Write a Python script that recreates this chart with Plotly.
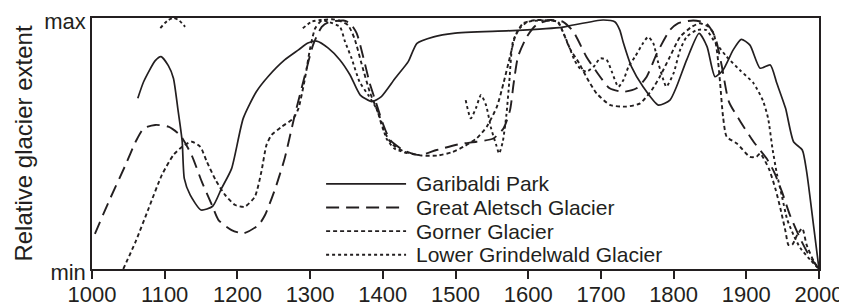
import plotly.graph_objects as go

# ---------------- data ----------------
garibaldi_years = [1063,1071,1087,1095,1105,1112,1118,1124,1127,1135,1150,1166,1178,1192,1208,
                   1226,1242,1265,1284,1297,1309,1325,1341,1355,1369,1385,1398,1417,1435,1447,
                   1470,1497,1579,1646,1662,1703,1719,1726,1731,1742,1758,1779,1795,1804,1818,
                   1835,1846,1857,1868,1882,1893,1905,1919,1933,1942,1954,1965,1977,1983,1993,2000]
garibaldi_vals = [0.68,0.746,0.83,0.846,0.81,0.76,0.64,0.51,0.36,0.295,0.235,0.25,0.32,0.40,0.60,
                  0.706,0.766,0.833,0.873,0.90,0.908,0.88,0.833,0.773,0.693,0.667,0.687,0.76,0.826,0.899,
                  0.925,0.939,0.95,0.963,0.972,0.992,0.985,0.952,0.90,0.806,0.726,0.653,0.673,0.726,0.833,
                  0.939,0.886,0.766,0.793,0.873,0.915,0.892,0.80,0.813,0.74,0.64,0.507,0.474,0.388,0.162,0.0]

aletsch_years = [1004,1023,1046,1060,1071,1087,1105,1121,1137,1151,1165,1174,1192,1208,1229,
                 1238,1252,1265,1279,1293,1304,1316,1325,1346,1355,1364,1373,1382,1391,1400,
                 1410,1428,1451,1474,1506,1529,1552,1566,1575,1580,1586,1598,1611,1630,1648,
                 1662,1680,1694,1712,1731,1749,1763,1777,1795,1806,1827,1845,1857,1866,1876,
                 1892,1910,1928,1938,1949,1960,1974,1986,2000]
aletsch_vals = [0.14,0.268,0.414,0.507,0.56,0.574,0.567,0.534,0.454,0.348,0.255,0.195,0.155,0.142,0.175,
                0.215,0.32,0.44,0.614,0.773,0.892,0.965,0.983,0.99,0.979,0.94,0.846,0.74,0.66,0.58,
                0.514,0.474,0.454,0.474,0.498,0.507,0.52,0.56,0.633,0.74,0.846,0.925,0.972,0.992,0.985,
                0.946,0.846,0.786,0.72,0.706,0.72,0.766,0.859,0.952,0.979,0.99,0.979,0.925,0.813,0.667,
                0.587,0.507,0.44,0.388,0.308,0.215,0.122,0.056,0.0]

gorner_years = [1043,1060,1078,1096,1112,1124,1137,1149,1158,1170,1183,1197,1210,1224,1233,
                1240,1247,1261,1277,1284,1293,1300,1307,1316,1330,1340,1352,1361,1370,1382,
                1393,1400,1412,1430,1453,1475,1495,1511,1529,1543,1557,1566,1575,1582,1593,
                1611,1630,1641,1647,1657,1670,1681,1694,1713,1735,1754,1770,1781,1795,1809,
                1825,1836,1848,1855,1860,1864,1868,1873,1887,1905,1914,1919,1931,1940,1947,
                1954,1958,1963,1970,1977,1983,1993,2000]
gorner_vals = [0.0,0.109,0.242,0.374,0.454,0.487,0.507,0.487,0.427,0.355,0.295,0.255,0.248,0.288,0.388,
               0.494,0.534,0.567,0.60,0.64,0.76,0.879,0.959,0.99,0.995,0.99,0.972,0.919,0.826,0.706,
               0.627,0.56,0.50,0.467,0.452,0.452,0.465,0.487,0.52,0.567,0.647,0.74,0.846,0.925,0.979,
               0.992,0.99,0.985,0.95,0.88,0.82,0.76,0.70,0.653,0.647,0.66,0.713,0.766,0.846,0.925,
               0.965,0.979,0.965,0.94,0.86,0.74,0.607,0.527,0.50,0.447,0.447,0.46,0.40,0.32,0.24,
               0.149,0.096,0.096,0.135,0.162,0.096,0.03,0.0]

grindelwald_years = [1094,1104,1112,1120,1128, None,
                     1290,1302,1316,1325,1341,1348,1357,1368,1380,1391,1398,1405,1416,1435, None,
                     1514,1521,1528,1535,1542,1549,1556,1560,1565,1570,1574,1579,1588,1600,1620,
                     1640,1650,1658,1664,1671,1680,1690,1699,1708,1715,1724,1731,1738,1747,1758,
                     1765,1772,1779,1786,1790,1800,1809,1818,1832,1845,1855,1873,1891,1910,1923,
                     1930,1936,1942,1949,1956,1965,1974,1988,2000]
grindelwald_vals = [0.96,0.99,1.0,0.99,0.965, None,
                    0.959,0.985,0.992,0.985,0.965,0.906,0.84,0.746,0.693,0.64,0.587,0.52,0.48,0.46, None,
                    0.673,0.60,0.64,0.693,0.653,0.56,0.494,0.46,0.507,0.614,0.746,0.906,0.959,0.985,0.99,
                    0.985,0.93,0.873,0.83,0.80,0.786,0.806,0.839,0.833,0.786,0.726,0.753,0.806,0.846,0.90,
                    0.925,0.90,0.82,0.753,0.726,0.78,0.873,0.925,0.952,0.952,0.912,0.846,0.793,0.74,0.67,
                    0.60,0.48,0.38,0.29,0.20,0.135,0.085,0.036,0.0]

series_names = ["Garibaldi Park", "Great Aletsch Glacier", "Gorner Glacier", "Lower Grindelwald Glacier"]
x_tick_vals = list(range(1000, 2001, 100))
y_tick_text = ["min", "max"]

# ---------------- styling ----------------
INK = "#231f20"
FONT = "Liberation Sans, Arial, Helvetica, sans-serif"
dashes = ["solid", "13px,7px", "4px,3px", "3px,3px"]
widths = [1.7, 1.9, 1.9, 1.9]

series = [(garibaldi_years, garibaldi_vals), (aletsch_years, aletsch_vals),
          (gorner_years, gorner_vals), (grindelwald_years, grindelwald_vals)]

fig = go.Figure()
for (xs, ys), name, d, w in zip(series, series_names, dashes, widths):
    fig.add_trace(go.Scatter(x=xs, y=ys, mode="lines", name=name, showlegend=False,
                             connectgaps=False,
                             line=dict(color=INK, width=w, dash=d, shape="spline", smoothing=0.6)))

# legend drawn in the plot area (matching the compact original key)
leg_x0, leg_x1, leg_tx = 0.322, 0.432, 0.444
leg_rows = [0.339, 0.245, 0.151, 0.057]
for name, d, w, yy in zip(series_names, dashes, widths, leg_rows):
    fig.add_shape(type="line", xref="paper", yref="paper", x0=leg_x0, x1=leg_x1, y0=yy, y1=yy,
                  line=dict(color=INK, width=w, dash=d))
    fig.add_annotation(xref="paper", yref="paper", x=leg_tx, y=yy, text=name, showarrow=False,
                       xanchor="left", yanchor="middle", borderpad=0,
                       font=dict(family=FONT, size=21, color=INK))

# the page has an 8px body margin, so the figure is sized to the visible window
fig.update_layout(
    width=839, height=300,
    margin=dict(l=84, r=28, t=10, b=39, autoexpand=False),
    paper_bgcolor="white", plot_bgcolor="white",
    font=dict(family=FONT, size=22, color=INK),
    showlegend=False,
)
fig.update_xaxes(range=[1000, 2000], tickvals=x_tick_vals, ticks="outside", ticklen=8, tickwidth=1.5,
                 tickcolor=INK, showline=True, linecolor=INK, linewidth=1.5, mirror=True,
                 showgrid=False, zeroline=False, tickfont=dict(size=22), automargin=False,
                 ticklabelstandoff=-3, ticklabeloverflow="allow")
fig.update_yaxes(range=[0, 1], tickvals=[0, 1], ticktext=y_tick_text, ticks="",
                 showline=True, linecolor=INK, linewidth=1.5, mirror=True, showgrid=False,
                 zeroline=False, tickfont=dict(size=22), automargin=False,
                 ticklabeloverflow="allow", ticklabelshift=3,
                 title=dict(text="Relative glacier extent", font=dict(size=24), standoff=5))

fig.write_html("out.html")
